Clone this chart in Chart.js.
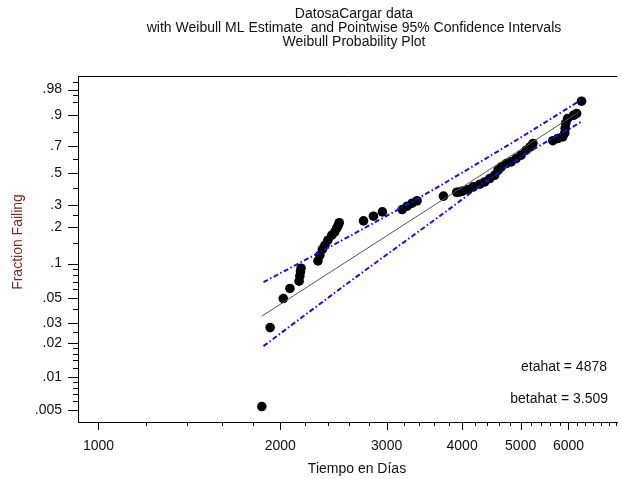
<!DOCTYPE html>
<html>
<head>
<meta charset="utf-8">
<script src="https://cdn.jsdelivr.net/npm/chart.js@4.4.0/dist/chart.umd.min.js"></script>
<style>
  html, body { margin: 0; padding: 0; background: #fff; }
</style>
</head>
<body>
<canvas id="chart" width="622" height="479"></canvas>
<script>
// failure times (days) and plotting positions
let failTimes = [1864, 1924, 2023, 2075, 2149, 2155, 2160, 2165,
    2309, 2326, 2349, 2371, 2398, 2434, 2462, 2481, 2495, 2504,
    2747, 2853, 2952, 3183, 3244, 3306, 3369,
    3726, 3918, 3960, 4008, 4095, 4174, 4279, 4360, 4444, 4528, 4587, 4644,
    4733, 4823, 4915, 5009, 5105, 5182, 5241,
    5653, 5760, 5870, 5915, 5926, 5937, 5982, 6119, 6189, 6307];
let failFractions = [0.0054, 0.0275, 0.0497, 0.0609, 0.0705, 0.0780, 0.0850, 0.0912,
    0.1054, 0.1178, 0.1324, 0.1430, 0.1573, 0.1730, 0.1840, 0.1972, 0.2083, 0.2182,
    0.2256, 0.2455, 0.2651, 0.2766, 0.2930, 0.3086, 0.3220,
    0.3477, 0.3700, 0.3720, 0.3780, 0.3877, 0.4042, 0.4217, 0.4368, 0.4601, 0.4830, 0.5191, 0.5436,
    0.5688, 0.5812, 0.6068, 0.6321, 0.6703, 0.6951, 0.7206,
    0.7411, 0.7570, 0.7683, 0.7939, 0.8263, 0.8566, 0.8827, 0.8991, 0.9072, 0.9535];

// ML fit line and pointwise 95% bands
let fitTimes = [1864, 6236];
let fitFractions = [0.0347, 0.913];
let upperTimes = [1876, 2716, 3499, 4915, 6283];
let upperFractions = [0.0691, 0.1900, 0.3651, 0.7446, 0.9564];
let lowerTimes = [1876, 2586, 3633, 4915, 6283];
let lowerFractions = [0.0188, 0.0677, 0.2369, 0.5939, 0.8625];

let xMajorTicks = [1000, 2000, 3000, 4000, 5000, 6000];
let yMajorTicks = [0.98, 0.9, 0.7, 0.5, 0.3, 0.2, 0.1, 0.05, 0.03, 0.02, 0.01, 0.005];
let yTickLabels = ['.98', '.9', '.7', '.5', '.3', '.2', '.1', '.05', '.03', '.02', '.01', '.005'];
let yMinorTicks = [0.99, 0.97, 0.95, 0.8, 0.6, 0.4, 0.25, 0.15, 0.09, 0.08, 0.07, 0.06, 0.04,
    0.025, 0.018, 0.016, 0.014, 0.012, 0.009, 0.008, 0.007, 0.006];

let titleLines = ['DatosaCargar data',
    'with Weibull ML Estimate  and Pointwise 95% Confidence Intervals',
    'Weibull Probability Plot'];
let etaText = 'etahat = 4878';
let betaText = 'betahat = 3.509';

const FONT = "'Liberation Sans', Arial, sans-serif";

function weibullY(p) {
    return Math.log(-Math.log(1 - p));
}

function toPoints(times, fractions) {
    return times.map(function (t, i) {
        return { x: t, y: weibullY(fractions[i]) };
    });
}

let xMinorTicks = [];
for (let v = 1200; v <= 7200; v += 200) {
    if (xMajorTicks.indexOf(v) < 0) xMinorTicks.push(v);
}

// ticks, frame and texts
const decorations = {
    id: 'decorations',
    afterDraw(chart) {
        let ctx = chart.ctx;
        let a = chart.chartArea;
        let x = chart.scales.x;
        let y = chart.scales.y;
        ctx.save();
        ctx.strokeStyle = '#000';
        ctx.lineWidth = 1;
        ctx.beginPath();
        ctx.moveTo(a.left, a.top + 0.5);
        ctx.lineTo(a.right, a.top + 0.5);
        xMajorTicks.forEach(function (v) {
            let px = Math.round(x.getPixelForValue(v)) + 0.5;
            ctx.moveTo(px, a.bottom);
            ctx.lineTo(px, a.bottom + 8);
        });
        xMinorTicks.forEach(function (v) {
            let px = Math.round(x.getPixelForValue(v)) + 0.5;
            ctx.moveTo(px, a.bottom);
            ctx.lineTo(px, a.bottom + 4);
        });
        yMajorTicks.forEach(function (p) {
            let py = Math.round(y.getPixelForValue(weibullY(p))) + 0.5;
            ctx.moveTo(a.left, py);
            ctx.lineTo(a.left - 10, py);
        });
        yMinorTicks.forEach(function (p) {
            let py = Math.round(y.getPixelForValue(weibullY(p))) + 0.5;
            ctx.moveTo(a.left, py);
            ctx.lineTo(a.left - 5, py);
        });
        ctx.stroke();

        ctx.font = '14px ' + FONT;
        ctx.fillStyle = '#111';
        ctx.textAlign = 'center';
        ctx.textBaseline = 'middle';
        titleLines.forEach(function (line, i) {
            ctx.fillText(line, 354, 14 + i * 14.2);
        });
        ctx.fillText('Tiempo en Días', 357, 469);

        ctx.textAlign = 'right';
        ctx.fillText(etaText, 607, 367);
        ctx.fillText(betaText, 608, 399);

        ctx.translate(18, 242);
        ctx.rotate(-Math.PI / 2);
        ctx.textAlign = 'center';
        ctx.fillStyle = '#7a2626';
        ctx.fillText('Fraction Failing', 0, 0);
        ctx.restore();
    }
};

new Chart(document.getElementById('chart'), {
    type: 'scatter',
    data: {
        datasets: [
            {
                label: 'Upper 95%',
                data: toPoints(upperTimes, upperFractions),
                showLine: true,
                borderColor: '#1010f0',
                borderWidth: 2,
                borderDash: [5, 2.5, 1.5, 2.5],
                cubicInterpolationMode: 'monotone',
                pointRadius: 0,
                fill: false
            },
            {
                label: 'Lower 95%',
                data: toPoints(lowerTimes, lowerFractions),
                showLine: true,
                borderColor: '#1010f0',
                borderWidth: 2,
                borderDash: [5, 2.5, 1.5, 2.5],
                cubicInterpolationMode: 'monotone',
                pointRadius: 0,
                fill: false
            },
            {
                label: 'ML fit',
                data: toPoints(fitTimes, fitFractions),
                showLine: true,
                borderColor: '#555',
                borderWidth: 1,
                pointRadius: 0,
                fill: false
            },
            {
                label: 'Failures',
                data: toPoints(failTimes, failFractions),
                pointRadius: 4.8,
                pointBackgroundColor: '#000',
                pointBorderWidth: 0,
                borderColor: '#000'
            }
        ]
    },
    options: {
        responsive: false,
        animation: false,
        devicePixelRatio: 1,
        layout: { padding: { top: 76, right: 0, left: 0, bottom: 0 } },
        plugins: {
            legend: { display: false },
            title: { display: false },
            tooltip: { enabled: false }
        },
        scales: {
            x: {
                type: 'logarithmic',
                min: 925,
                max: 7225,
                grid: { display: false, drawTicks: false },
                border: { display: true, color: '#000', width: 1 },
                afterBuildTicks: function (scale) {
                    scale.ticks = xMajorTicks.map(function (v) { return { value: v }; });
                },
                afterFit: function (scale) { scale.height = 57; },
                ticks: {
                    autoSkip: false,
                    maxRotation: 0,
                    padding: 16,
                    color: '#111',
                    font: { family: FONT, size: 14 },
                    callback: function (value) { return String(value); }
                }
            },
            y: {
                type: 'linear',
                min: -5.54,
                max: 1.645,
                grid: { display: false, drawTicks: false },
                border: { display: true, color: '#000', width: 1 },
                afterBuildTicks: function (scale) {
                    scale.ticks = yMajorTicks.map(function (p) { return { value: weibullY(p) }; });
                },
                afterFit: function (scale) { scale.width = 78; },
                ticks: {
                    autoSkip: false,
                    padding: 16,
                    color: '#111',
                    font: { family: FONT, size: 14 },
                    callback: function (value, index) { return yTickLabels[index]; }
                }
            }
        }
    },
    plugins: [decorations]
});
</script>
</body>
</html>
